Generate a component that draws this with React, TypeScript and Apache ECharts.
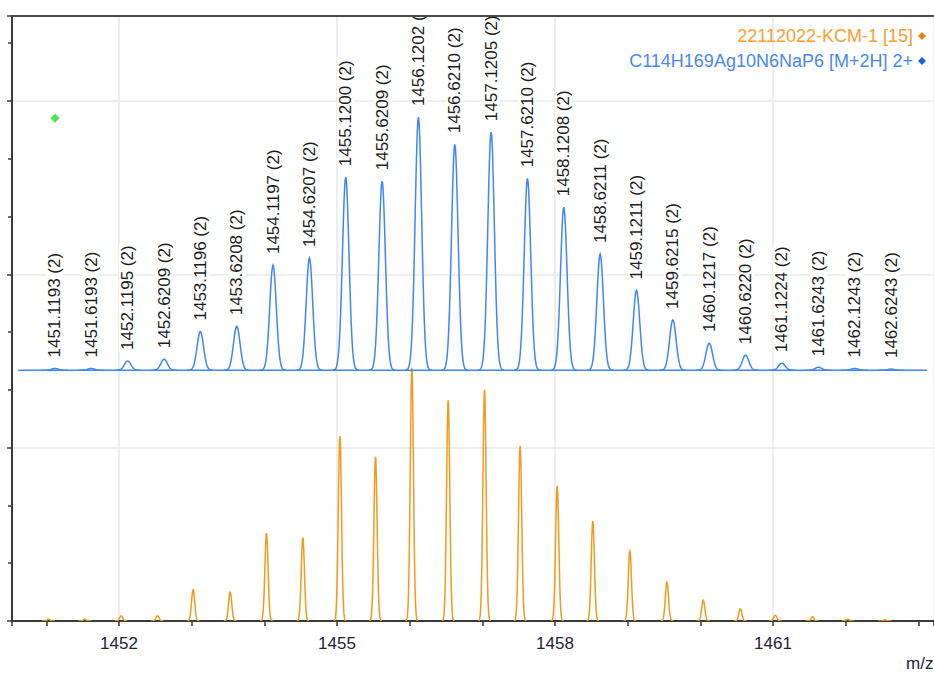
import React, { useEffect, useRef } from "react";
import * as echarts from "echarts";

// Series names shown in the legend
const EXP_NAME = "22112022-KCM-1 [15]";
const SIM_NAME = "C114H169Ag10N6NaP6 [M+2H] 2+";

// Simulated isotope pattern: peak m/z, relative height (above its own offset baseline)
const simMz = [
  1451.1193, 1451.6193, 1452.1195, 1452.6209, 1453.1196, 1453.6208, 1454.1197, 1454.6207,
  1455.12, 1455.6209, 1456.1202, 1456.621, 1457.1205, 1457.621, 1458.1208, 1458.6211,
  1459.1211, 1459.6215, 1460.1217, 1460.622, 1461.1224, 1461.6243, 1462.1243, 1462.6243,
];
const simIntensity = [
  0.03, 0.03, 0.16, 0.19, 0.67, 0.76, 1.82, 1.94,
  3.34, 3.27, 4.38, 3.91, 4.12, 3.32, 2.82, 2.01,
  1.38, 0.87, 0.47, 0.26, 0.12, 0.05, 0.03, 0.02,
];
const simCharge = 2;
const simOffset = 4.34;
const simRange = [1450.61, 1463.12];

// Measured spectrum peaks
const expMz = [
  1451.03, 1451.53, 1452.03, 1452.53, 1453.02, 1453.53, 1454.03, 1454.53,
  1455.04, 1455.53, 1456.03, 1456.53, 1457.03, 1457.52, 1458.03, 1458.52,
  1459.03, 1459.54, 1460.04, 1460.55, 1461.03, 1461.54, 1462.03, 1462.54,
];
const expIntensity = [
  0.03, 0.03, 0.09, 0.09, 0.54, 0.5, 1.52, 1.44,
  3.2, 2.84, 4.38, 3.82, 4.0, 3.03, 2.34, 1.73,
  1.21, 0.67, 0.36, 0.21, 0.1, 0.07, 0.03, 0.02,
];

// Selected point marker
const markerPoint = [1451.12, 8.7];

// Axis settings
const xTickLabels = [1452, 1455, 1458, 1461];
const xMin = 1450.528;
const xMax = 1463.215;
const yMax = 10.47;

const EXP_LINE = "#f39a1e";
const SIM_LINE = "#3f86f7";

function peakRenderer(sigma: number, base: number, color: string, withLabel: boolean) {
  return (params: any, api: any) => {
    const c = api.value(0) as number;
    const h = api.value(1) as number;
    const pts: number[][] = [];
    const steps = 48;
    for (let i = 0; i <= steps; i++) {
      const x = c - 4 * sigma + (8 * sigma * i) / steps;
      const y = base + h * Math.exp(-0.5 * ((x - c) / sigma) ** 2);
      pts.push(api.coord([x, y]));
    }
    const children: any[] = [
      {
        type: "polyline",
        shape: { points: pts },
        style: { stroke: color, lineWidth: 1.5, fill: null },
      },
    ];
    if (withLabel) {
      const top = api.coord([c, base + h]);
      children.push({
        type: "text",
        x: top[0],
        y: top[1] - 9,
        rotation: Math.PI / 2,
        style: {
          text: `${c.toFixed(4)} (${simCharge})`,
          fontSize: 17,
          fontFamily: "'Liberation Sans', Arial, sans-serif",
          fill: "#1c1c1c",
          align: "left",
          verticalAlign: "middle",
          backgroundColor: "#ffffff",
          padding: [0, 2],
        },
      });
    }
    return { type: "group", children };
  };
}

export default function App() {
  const ref = useRef<HTMLDivElement>(null);

  useEffect(() => {
    if (!ref.current) return;
    const chart = echarts.init(ref.current, null, { renderer: "svg" });

    const simData = simMz.map((m, i) => [m, simIntensity[i]]);
    const expData = expMz.map((m, i) => [m, expIntensity[i]]);

    chart.setOption({
      animation: false,
      backgroundColor: "#ffffff",
      textStyle: { fontFamily: "'Liberation Sans', Arial, sans-serif" },
      grid: { left: 12, top: 16, right: 0, bottom: 52, containLabel: false },
      legend: {
        orient: "vertical",
        right: 3,
        top: 22,
        align: "right",
        icon: "diamond",
        itemWidth: 8,
        itemHeight: 8,
        itemGap: 7,
        selectedMode: false,
        data: [
          { name: EXP_NAME, textStyle: { color: "#f5a033" } },
          { name: SIM_NAME, textStyle: { color: "#4a87f2" } },
        ],
        textStyle: { fontSize: 18, lineHeight: 18 },
      },
      xAxis: {
        type: "value",
        min: xMin,
        max: xMax,
        splitNumber: 4,
        axisLine: { show: true, lineStyle: { color: "#3a3a3a", width: 2 } },
        axisTick: { show: true, length: 5, lineStyle: { color: "#3a3a3a", width: 1.5 } },
        minorTick: { show: true, splitNumber: 3, length: 5, lineStyle: { color: "#3a3a3a", width: 1.5 } },
        axisLabel: {
          fontSize: 17,
          color: "#23233a",
          margin: 14,
          showMinLabel: false,
          showMaxLabel: false,
          formatter: (v: number) =>
            xTickLabels.includes(Math.round(v)) && Math.abs(v - Math.round(v)) < 1e-6
              ? String(Math.round(v))
              : "",
        },
        splitLine: { show: true, lineStyle: { color: "#e8e8e8", width: 1.5 } },
      },
      yAxis: {
        type: "value",
        min: 0,
        max: yMax,
        interval: 3,
        axisLine: { show: true, lineStyle: { color: "#3a3a3a", width: 2 } },
        axisTick: { show: true, length: 5, lineStyle: { color: "#3a3a3a", width: 1.5 } },
        minorTick: { show: true, splitNumber: 3, length: 4, lineStyle: { color: "#3a3a3a", width: 1.5 } },
        axisLabel: { show: false },
        splitLine: { show: true, lineStyle: { color: "#e8e8e8", width: 1.5 } },
      },
      graphic: [
        {
          type: "line",
          z: 100,
          shape: { x1: 11, y1: 16, x2: 934, y2: 16 },
          style: { stroke: "#4a4a4a", lineWidth: 2 },
        },
        {
          type: "text",
          left: 906,
          top: 655,
          z: 100,
          style: {
            text: "m/z",
            fontSize: 17,
            fontFamily: "'Liberation Sans', Arial, sans-serif",
            fill: "#23233a",
          },
        },
      ],
      series: [
        {
          name: EXP_NAME,
          type: "custom",
          clip: true,
          itemStyle: { color: "#e8830c" },
          renderItem: peakRenderer(0.022, 0, EXP_LINE, false),
          data: expData,
          z: 3,
        },
        {
          name: "sim-baseline",
          type: "line",
          data: [
            [simRange[0], simOffset],
            [simRange[1], simOffset],
          ],
          symbol: "none",
          silent: true,
          lineStyle: { color: SIM_LINE, width: 1.5 },
          z: 4,
        },
        {
          name: SIM_NAME,
          type: "custom",
          clip: true,
          itemStyle: { color: "#1f5fdc" },
          renderItem: peakRenderer(0.045, simOffset, SIM_LINE, true),
          data: simData,
          z: 5,
        },
        {
          name: "marker",
          type: "scatter",
          data: [markerPoint],
          symbol: "diamond",
          symbolSize: 9,
          itemStyle: { color: "#1ee01e" },
          silent: true,
          z: 6,
        },
      ],
    });

    return () => chart.dispose();
  }, []);

  return (
    <div
      ref={ref}
      style={{ position: "fixed", left: 0, top: 0, width: 934, height: 673, background: "#fff" }}
    />
  );
}
